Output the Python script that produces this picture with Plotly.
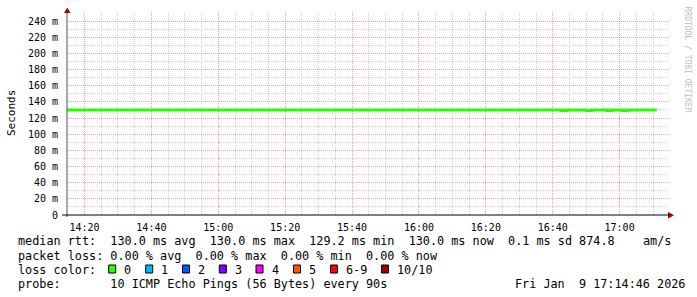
import plotly.graph_objects as go

# ---------------- data ----------------
step_times = ["2026-01-09 14:14:46", "2026-01-09 16:42:42", "2026-01-09 16:44:12",
              "2026-01-09 16:50:10", "2026-01-09 16:51:40", "2026-01-09 16:56:21",
              "2026-01-09 16:57:46", "2026-01-09 17:00:39", "2026-01-09 17:02:09",
              "2026-01-09 17:11:06"]
median_ms = [130.0, 129.2, 130.0, 129.2, 130.0, 129.2, 130.0, 129.2, 130.0, 130.0]

y_tick_vals = [0, 20, 40, 60, 80, 100, 120, 140, 160, 180, 200, 220, 240]
y_tick_text = ["0", "20 m", "40 m", "60 m", "80 m", "100 m", "120 m", "140 m",
               "160 m", "180 m", "200 m", "220 m", "240 m"]

line1 = "median rtt:  130.0 ms avg  130.0 ms max  129.2 ms min  130.0 ms now  0.1 ms sd 874.8    am/s"
line2 = "packet loss: 0.00 % avg  0.00 % max  0.00 % min  0.00 % now"
line3_label = "loss color:"
loss_labels = ["0", "1", "2", "3", "4", "5", "6-9", "10/10"]
loss_colors = ["#26ff00", "#00b8ff", "#0059ff", "#7e00ff", "#ff00ff", "#ff5500", "#ff0000", "#a10000"]
line4 = "probe:       10 ICMP Echo Pings (56 Bytes) every 90s"
stamp = "Fri Jan  9 17:14:46 2026"
watermark = "RRDTOOL / TOBI OETIKER"

x_start = "2026-01-09 14:14:46"
x_end = "2026-01-09 17:14:46"

# ---------------- layout helpers ----------------
W, H = 697, 297
L, R, T, B = 67, 669, 13, 215


def px(x):
    return (x - L) / (R - L)


def py(y):
    return (B - y) / (B - T)


def nb(s):
    return s.replace(" ", "\u00a0")


MONO = "DejaVu Sans Mono"

fig = go.Figure()
fig.add_trace(go.Scatter(x=step_times, y=median_ms, mode="lines",
                         line=dict(color="#26ff00", width=3, shape="hv"),
                         hoverinfo="skip", showlegend=False))

fig.update_layout(
    width=W, height=H, autosize=False,
    margin=dict(l=L, r=W - R, t=T, b=H - B, pad=0),
    paper_bgcolor="white", plot_bgcolor="white",
    showlegend=False,
    font=dict(family=MONO, size=10, color="#000000"),
)

fig.update_xaxes(
    type="date", range=[x_start, x_end],
    tick0="2026-01-09 14:20:00", dtick=20 * 60 * 1000, tickformat="%H:%M",
    showgrid=True, gridcolor="#f2a0a0", griddash="1px,1px", gridwidth=1,
    minor=dict(tick0="2026-01-09 14:15:00", dtick=5 * 60 * 1000, showgrid=True,
               gridcolor="#d0d0d0", griddash="1px,1px", gridwidth=1),
    ticks="outside", ticklen=3, tickcolor="rgba(0,0,0,0)",
    tickfont=dict(family=MONO, size=10, color="#000000"),
    showline=False, zeroline=False,
)
fig.update_yaxes(
    range=[0, 250], tickvals=y_tick_vals, ticktext=y_tick_text,
    showgrid=True, gridcolor="#f2a0a0", griddash="1px,1px", gridwidth=1,
    minor=dict(tick0=0, dtick=10, showgrid=True, gridcolor="#d0d0d0",
               griddash="1px,1px", gridwidth=1),
    ticks="outside", ticklen=6, tickcolor="rgba(0,0,0,0)",
    tickfont=dict(family=MONO, size=10, color="#000000"),
    showline=False, zeroline=False,
)

shapes = []
# axes
shapes.append(dict(type="line", xref="paper", yref="paper", x0=px(67), x1=px(67),
                   y0=py(217), y1=py(11), line=dict(color="#505050", width=1)))
shapes.append(dict(type="line", xref="paper", yref="paper", x0=px(62), x1=px(670),
                   y0=py(215), y1=py(215), line=dict(color="#000000", width=1)))
# arrows
shapes.append(dict(type="path", xref="paper", yref="paper",
                   path=f"M {px(64)} {py(13)} L {px(70.5)} {py(13)} L {px(67.2)} {py(7.5)} Z",
                   fillcolor="#a00000", line=dict(color="#a00000", width=0)))
shapes.append(dict(type="path", xref="paper", yref="paper",
                   path=f"M {px(668)} {py(212)} L {px(668)} {py(218.5)} L {px(674)} {py(215.2)} Z",
                   fillcolor="#a00000", line=dict(color="#a00000", width=0)))

# loss color boxes
box_x = [108.7, 145.7, 182.5, 219.3, 256.0, 293.5, 330.5, 381.5]
for bx, col in zip(box_x, loss_colors):
    shapes.append(dict(type="rect", xref="paper", yref="paper",
                       x0=px(bx), x1=px(bx + 7), y0=py(273), y1=py(265),
                       fillcolor=col, line=dict(color="#000000", width=1)))
fig.update_layout(shapes=shapes)

ann = []
LEG = 11.8
ann.append(dict(text=nb(line1), x=px(16), y=py(241.5), xref="paper", yref="paper",
                xanchor="left", yanchor="middle", showarrow=False,
                font=dict(family=MONO, size=LEG, color="#000000")))
ann.append(dict(text=nb(line2), x=px(16), y=py(255.5), xref="paper", yref="paper",
                xanchor="left", yanchor="middle", showarrow=False,
                font=dict(family=MONO, size=LEG, color="#000000")))
ann.append(dict(text=nb(line3_label), x=px(16), y=py(269.5), xref="paper", yref="paper",
                xanchor="left", yanchor="middle", showarrow=False,
                font=dict(family=MONO, size=LEG, color="#000000")))
for bx, lab in zip(box_x, loss_labels):
    ann.append(dict(text=lab, x=px(bx + 13.5), y=py(269.5), xref="paper", yref="paper",
                    xanchor="left", yanchor="middle", showarrow=False,
                    font=dict(family=MONO, size=LEG, color="#000000")))
ann.append(dict(text=nb(line4), x=px(16), y=py(283.5), xref="paper", yref="paper",
                xanchor="left", yanchor="middle", showarrow=False,
                font=dict(family=MONO, size=LEG, color="#000000")))
ann.append(dict(text=nb(stamp), x=px(512.5), y=py(283.5), xref="paper", yref="paper",
                xanchor="left", yanchor="middle", showarrow=False,
                font=dict(family=MONO, size=LEG, color="#000000")))
ann.append(dict(text="Seconds", x=px(11), y=py(113), xref="paper", yref="paper",
                xanchor="center", yanchor="middle", showarrow=False, textangle=-90,
                font=dict(family=MONO, size=11, color="#000000")))
ann.append(dict(text=nb(watermark), x=px(686.5), y=py(59), xref="paper", yref="paper",
                xanchor="center", yanchor="middle", showarrow=False, textangle=90,
                font=dict(family=MONO, size=8, color="#c0c0c0")))
fig.update_layout(annotations=ann)

fig.write_html("out.html")
